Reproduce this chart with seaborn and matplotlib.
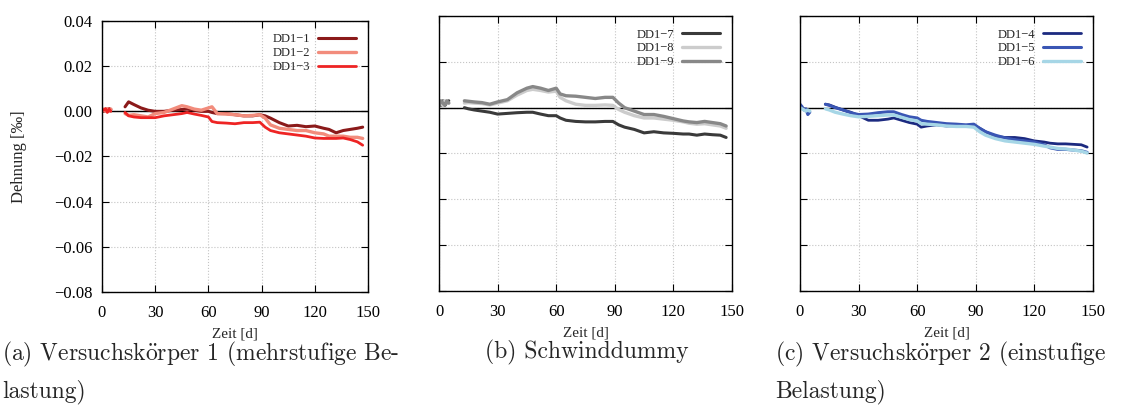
import numpy as np
import pandas as pd
import matplotlib
matplotlib.use("Agg")
import matplotlib.pyplot as plt
from matplotlib.ticker import FuncFormatter
import seaborn as sns

# early readings (days 0-5) before the gap
days_start = [0, 1, 2, 3, 4, 5]
# main readings from day 13 on
days = [13, 15, 18, 22, 26, 30, 35, 40, 45, 48, 52, 56, 60, 62, 65, 70, 75, 80, 85,
        89, 92, 95, 100, 105, 110, 115, 120, 125, 128, 132, 136, 140, 144, 147]

# Versuchskoerper 1
dd1_1_start = [0.0012, 0.0, 0.001, 0.0, 0.0012, 0.0008]
dd1_2_start = [0.0, 0.001, 0.0, 0.0012, 0.0, 0.001]
dd1_3_start = [0.001, 0.0005, 0.0012, -0.0005, 0.001, 0.0]
dd1_1 = [0.002, 0.0042, 0.003, 0.0015, 0.0005, 0.0, 0.0, 0.0005, 0.0008, 0.001, 0.0005, 0.0,
         0.0, -0.0005, -0.001, -0.001, -0.0015, -0.002, -0.002, -0.0015, -0.002, -0.003,
         -0.005, -0.0065, -0.0062, -0.0068, -0.0065, -0.0075, -0.008, -0.0095, -0.0085,
         -0.008, -0.0075, -0.007]
dd1_2 = [-0.001, -0.0018, -0.0015, -0.002, -0.0025, -0.001, -0.0005, 0.001, 0.0025, 0.002,
         0.001, 0.0005, 0.0015, 0.002, -0.001, -0.0012, -0.0015, -0.002, -0.0018, -0.0015,
         -0.003, -0.006, -0.0075, -0.008, -0.0085, -0.0085, -0.0095, -0.01, -0.011, -0.011,
         -0.011, -0.0115, -0.0115, -0.012]
dd1_3 = [-0.0005, -0.002, -0.0025, -0.0028, -0.0028, -0.0028, -0.002, -0.0015, -0.001,
         -0.0005, -0.0012, -0.0018, -0.0025, -0.0045, -0.005, -0.0052, -0.0055, -0.005,
         -0.005, -0.0048, -0.007, -0.0085, -0.0095, -0.01, -0.0105, -0.011, -0.0118, -0.012,
         -0.012, -0.012, -0.0118, -0.0125, -0.0135, -0.015]

# Schwinddummy
dd1_7_start = [0.002, 0.001, 0.003, 0.001, 0.002, 0.003]
dd1_8_start = [0.003, 0.002, 0.001, 0.003, 0.002, 0.002]
dd1_9_start = [0.001, 0.003, 0.002, 0.001, 0.003, 0.002]
dd1_7 = [0.0, -0.0005, -0.001, -0.0015, -0.002, -0.0028, -0.0025, -0.0022, -0.002, -0.002,
         -0.0028, -0.0035, -0.0035, -0.0045, -0.0055, -0.006, -0.0062, -0.0062, -0.006,
         -0.006, -0.0075, -0.0085, -0.0095, -0.011, -0.0105, -0.011, -0.0112, -0.0115,
         -0.0115, -0.012, -0.0115, -0.0118, -0.012, -0.013]
dd1_8 = [0.002, 0.0022, 0.002, 0.0018, 0.0012, 0.002, 0.003, 0.0055, 0.0075, 0.008, 0.0075,
         0.0068, 0.0072, 0.0045, 0.003, 0.0015, 0.001, 0.001, 0.0012, 0.001, -0.0008,
         -0.002, -0.0035, -0.0045, -0.0045, -0.005, -0.0055, -0.0062, -0.0068, -0.0072,
         -0.007, -0.0075, -0.008, -0.009]
dd1_9 = [0.003, 0.0028, 0.0025, 0.0022, 0.0015, 0.0025, 0.0035, 0.0065, 0.0085, 0.0092,
         0.0085, 0.0075, 0.0085, 0.006, 0.0052, 0.005, 0.0045, 0.004, 0.0045, 0.0045, 0.002,
         0.0, -0.0015, -0.003, -0.003, -0.0038, -0.0048, -0.0058, -0.0062, -0.0065, -0.006,
         -0.0065, -0.007, -0.008]

# Versuchskoerper 2
dd1_4_start = [0.001, 0.0, -0.0005, -0.001, -0.002, -0.0015]
dd1_5_start = [0.0015, 0.0005, -0.001, -0.0005, -0.003, -0.002]
dd1_6_start = [0.0, -0.0005, -0.001, -0.0015, -0.001, -0.0015]
dd1_4 = [0.0015, 0.0012, 0.0002, -0.001, -0.002, -0.0035, -0.0055, -0.0055, -0.005, -0.0045,
         -0.0055, -0.0065, -0.0072, -0.0085, -0.008, -0.0075, -0.008, -0.0078, -0.0078,
         -0.0078, -0.009, -0.0105, -0.0125, -0.013, -0.013, -0.0135, -0.0145, -0.015,
         -0.0155, -0.0158, -0.0158, -0.016, -0.0162, -0.0172]
dd1_5 = [0.0015, 0.001, 0.0, -0.001, -0.0022, -0.003, -0.0028, -0.0022, -0.0018, -0.0018,
         -0.003, -0.004, -0.0045, -0.0055, -0.006, -0.0065, -0.007, -0.0072, -0.0075,
         -0.0072, -0.009, -0.0105, -0.012, -0.0132, -0.014, -0.0145, -0.015, -0.0162,
         -0.0175, -0.0182, -0.0182, -0.0185, -0.0188, -0.0195]
dd1_6 = [-0.0005, -0.001, -0.002, -0.0028, -0.0035, -0.004, -0.0038, -0.0035, -0.0032,
         -0.0032, -0.0042, -0.0052, -0.0058, -0.007, -0.0072, -0.0075, -0.008, -0.0082,
         -0.0082, -0.0085, -0.0105, -0.012, -0.0135, -0.0145, -0.015, -0.0155, -0.016,
         -0.0168, -0.0172, -0.0178, -0.018, -0.0185, -0.019, -0.0198]

panels = [
    [("DD1\u22121", dd1_1_start, dd1_1, "#8b1a1a", 2.2),
     ("DD1\u22122", dd1_2_start, dd1_2, "#f28c7c", 2.4),
     ("DD1\u22123", dd1_3_start, dd1_3, "#ee2424", 2.0)],
    [("DD1\u22127", dd1_7_start, dd1_7, "#3a3a3a", 2.2),
     ("DD1\u22128", dd1_8_start, dd1_8, "#cccccc", 2.4),
     ("DD1\u22129", dd1_9_start, dd1_9, "#888888", 2.4)],
    [("DD1\u22124", dd1_4_start, dd1_4, "#1c2a80", 2.0),
     ("DD1\u22125", dd1_5_start, dd1_5, "#3a56b4", 2.2),
     ("DD1\u22126", dd1_6_start, dd1_6, "#a6d6e6", 2.4)],
]
captions = [
    "(a) Versuchsk$\\ddot{\\mathrm{o}}$rper 1 (mehrstufige Be-\nlastung)",
    "(b) Schwinddummy",
    "(c) Versuchsk$\\ddot{\\mathrm{o}}$rper 2 (einstufige\nBelastung)",
]
caption_x = [2, 485, 775]

sns.set_style("ticks")
plt.rcParams["font.family"] = ["Liberation Serif", "DejaVu Serif"]
plt.rcParams["mathtext.fontset"] = "cm"

W, H = 1136, 419
fig = plt.figure(figsize=(W / 100, H / 100), dpi=100)
# axes boxes in pixels: left, right, top, bottom
boxes = [(102, 368, 21, 292), (439, 732, 16, 291), (800, 1093, 16, 291)]

for i, (series, box) in enumerate(zip(panels, boxes)):
    l, r, t, b = box
    ax = fig.add_axes([l / W, 1 - b / H, (r - l) / W, (b - t) / H])
    ax.axhline(0, color="black", lw=1.0, zorder=1)
    for name, ys, ym, col, lw in series:
        sns.lineplot(x=days_start, y=ys, color=col, lw=lw, ax=ax, legend=False)
        sns.lineplot(x=days, y=ym, color=col, lw=lw, ax=ax, label=name)
    ax.set_xlim(0, 150)
    ax.set_ylim(-0.08, 0.04)
    ax.set_xticks([0, 30, 60, 90, 120, 150])
    ax.set_yticks([-0.08, -0.06, -0.04, -0.02, 0.0, 0.02, 0.04])
    ax.grid(True, linestyle=":", color="#c4c4c4", lw=0.8)
    ax.tick_params(direction="in", length=5, width=0.8, top=True, right=True,
                   labelsize=12, pad=9, colors="black")
    for s in ax.spines.values():
        s.set_linewidth(1.0)
        s.set_color("black")
    ax.set_xlabel("Zeit [d]", fontsize=11, labelpad=5)
    if i == 0:
        ax.yaxis.set_major_formatter(
            FuncFormatter(lambda v, p: ("%.2f" % v).replace("-", "\u2212")))
        ax.tick_params(axis="y", pad=7)
        ax.set_ylabel("Dehnung [\u2030]", fontsize=12, labelpad=19)
    else:
        ax.set_yticklabels([])
        ax.set_ylabel("")
    ax.legend(loc="upper right", frameon=False, markerfirst=False, fontsize=9,
              handlelength=3.0, labelspacing=0.15, borderaxespad=0.6, handletextpad=0.6)
    fig.text(caption_x[i] / W, 1 - 340 / H, captions[i], ha="left", va="top",
             fontsize=17, family=["cmr10"], linespacing=1.6)

fig.savefig("out.png", dpi=100)
